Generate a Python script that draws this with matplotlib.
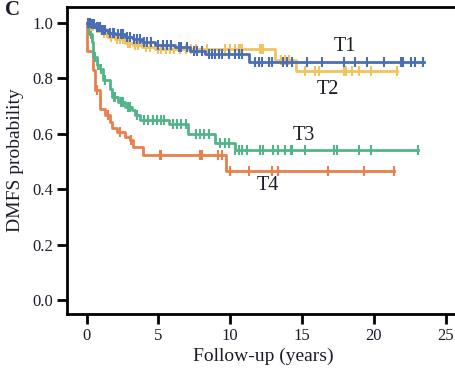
import numpy as np
from matplotlib import pyplot as plt

# step curves: event times (years) and survival after each step
t1_time = [0, 0.3, 0.58, 1.0, 1.5, 2.0, 2.67, 3.2, 3.84, 4.77, 6.16, 7.2, 8.25, 11.3, 23.5]
t1_surv = [1.0, 0.995, 0.985, 0.975, 0.965, 0.958, 0.948, 0.94, 0.93, 0.92, 0.914, 0.90, 0.887, 0.857, 0.857]
t2_time = [0, 0.2, 0.58, 1.0, 1.5, 2.0, 2.67, 3.2, 3.84, 4.77, 13.1, 14.6, 21.6]
t2_surv = [1.0, 0.99, 0.98, 0.965, 0.95, 0.94, 0.926, 0.92, 0.914, 0.904, 0.866, 0.826, 0.826]
t3_time = [0, 0.11, 0.18, 0.35, 0.46, 0.70, 0.93, 1.16, 1.63, 1.74, 2.21, 2.67, 3.14, 3.37, 3.72,
           5.7, 7.07, 8.95, 10.3, 23.1]
t3_surv = [1.0, 0.98, 0.96, 0.93, 0.877, 0.847, 0.835, 0.793, 0.763, 0.733, 0.715, 0.697, 0.685, 0.667,
           0.648, 0.635, 0.60, 0.565, 0.54, 0.54]
t4_time = [0, 0.02, 0.46, 0.58, 0.93, 1.28, 1.63, 1.74, 2.09, 2.67, 3.02, 3.25, 3.95, 9.7, 21.4]
t4_surv = [1.0, 0.90, 0.83, 0.757, 0.69, 0.667, 0.643, 0.62, 0.607, 0.589, 0.577, 0.553, 0.523, 0.465, 0.465]

# censoring times
t1_cens = [0.1, 0.2, 0.35, 0.5, 0.7, 0.8, 0.9, 1.1, 1.2, 1.3, 1.6, 1.8, 1.9, 2.2, 2.4, 2.5, 2.8, 3.0,
           3.3, 3.5, 3.7, 4.0, 4.2, 4.5, 5.0, 5.3, 5.6, 5.9, 6.4, 6.6, 7.0, 7.5, 7.7, 8.0, 8.5, 8.7,
           8.95, 9.2, 9.4, 9.9, 10.35, 10.6, 10.8, 11.7, 12.0, 12.2, 12.7, 12.9, 13.7, 13.96, 14.3,
           15.35, 16.4, 17.9, 18.7, 19.5, 20.7, 21.9, 22.0, 22.6, 22.9, 23.4]
t2_cens = [0.15, 0.3, 0.45, 0.7, 0.85, 1.2, 1.4, 1.7, 2.1, 2.3, 2.5, 2.9, 3.0, 3.4, 3.6, 4.1, 4.4,
           5.0, 5.2, 5.5, 5.8, 6.1, 6.5, 6.9, 7.3, 7.6, 8.4, 9.65, 10.0, 10.35, 10.6, 10.7, 10.8,
           12.1, 12.2, 12.3, 13.5, 13.8, 14.1, 15.2, 15.9, 16.2, 17.9, 18.05, 18.5, 18.95, 19.8, 21.6]
t3_cens = [0.3, 0.55, 0.8, 1.0, 1.3, 1.9, 2.0, 2.4, 2.5, 2.9, 3.0, 3.5, 4.0, 4.3, 4.6, 4.9, 5.2,
           5.4, 6.0, 6.3, 6.6, 6.9, 7.6, 7.9, 8.2, 8.5, 9.3, 9.6, 9.9, 10.35, 10.6, 10.8, 11.2,
           12.1, 12.3, 13.0, 13.3, 13.8, 14.2, 14.3, 15.2, 17.2, 17.4, 19.0, 19.8, 23.1]
t4_cens = [0.7, 1.5, 2.3, 3.1, 5.1, 5.2, 7.9, 8.0, 9.15, 9.4, 10.0, 11.3, 12.9, 13.35, 16.8, 19.3, 21.4]

groups = ['T4', 'T3', 'T2', 'T1']
colors = {'T1': '#4A6EB5', 'T2': '#F2C35C', 'T3': '#52B58A', 'T4': '#E8804B'}
curves = {'T1': (t1_time, t1_surv, t1_cens), 'T2': (t2_time, t2_surv, t2_cens),
          'T3': (t3_time, t3_surv, t3_cens), 'T4': (t4_time, t4_surv, t4_cens)}
label_pos = {'T1': (18.0, 0.915), 'T2': (16.8, 0.76), 'T3': (15.1, 0.595), 'T4': (12.6, 0.412)}

plt.rcParams['font.family'] = ['Liberation Serif', 'DejaVu Serif']
txt = '#1c1c2a'

fig = plt.figure(figsize=(4.55, 3.69), dpi=100)
ax = fig.add_axes([67 / 455, 55 / 369, 393 / 455, 307 / 369])

for g in groups:
    t, s, c = curves[g]
    t = np.array(t); s = np.array(s); c = np.array(c)
    ax.plot(t, s, drawstyle='steps-post', color=colors[g], lw=2)
    cy = s[np.searchsorted(t, c, side='right') - 1]
    ax.plot(c, cy, ls='none', marker='|', ms=7, mew=1.5, color=colors[g])
    ax.text(*label_pos[g], g, fontsize=14.5, color=txt, ha='center', va='center')

ax.set_xlim(-1.37, 26.0)
ax.set_ylim(-0.05, 1.057)
ax.set_xticks([0, 5, 10, 15, 20, 25])
ax.set_yticks([0.0, 0.2, 0.4, 0.6, 0.8, 1.0])
ax.set_yticklabels(['0.0', '0.2', '0.4', '0.6', '0.8', '1.0'])
ax.tick_params(labelsize=12, width=2, length=7, colors='black', labelcolor=txt, pad=3)
for side in ['left', 'bottom', 'top']:
    ax.spines[side].set_linewidth(2)
ax.spines['right'].set_visible(False)

ax.set_xlabel('Follow-up (years)', fontsize=14, color=txt, labelpad=3)
ax.set_ylabel('DMFS probability', fontsize=14, color=txt, labelpad=6)
fig.text(0.012, 0.958, 'C', fontsize=15, fontweight='bold', color=txt)

plt.savefig('out.png', dpi=100)
